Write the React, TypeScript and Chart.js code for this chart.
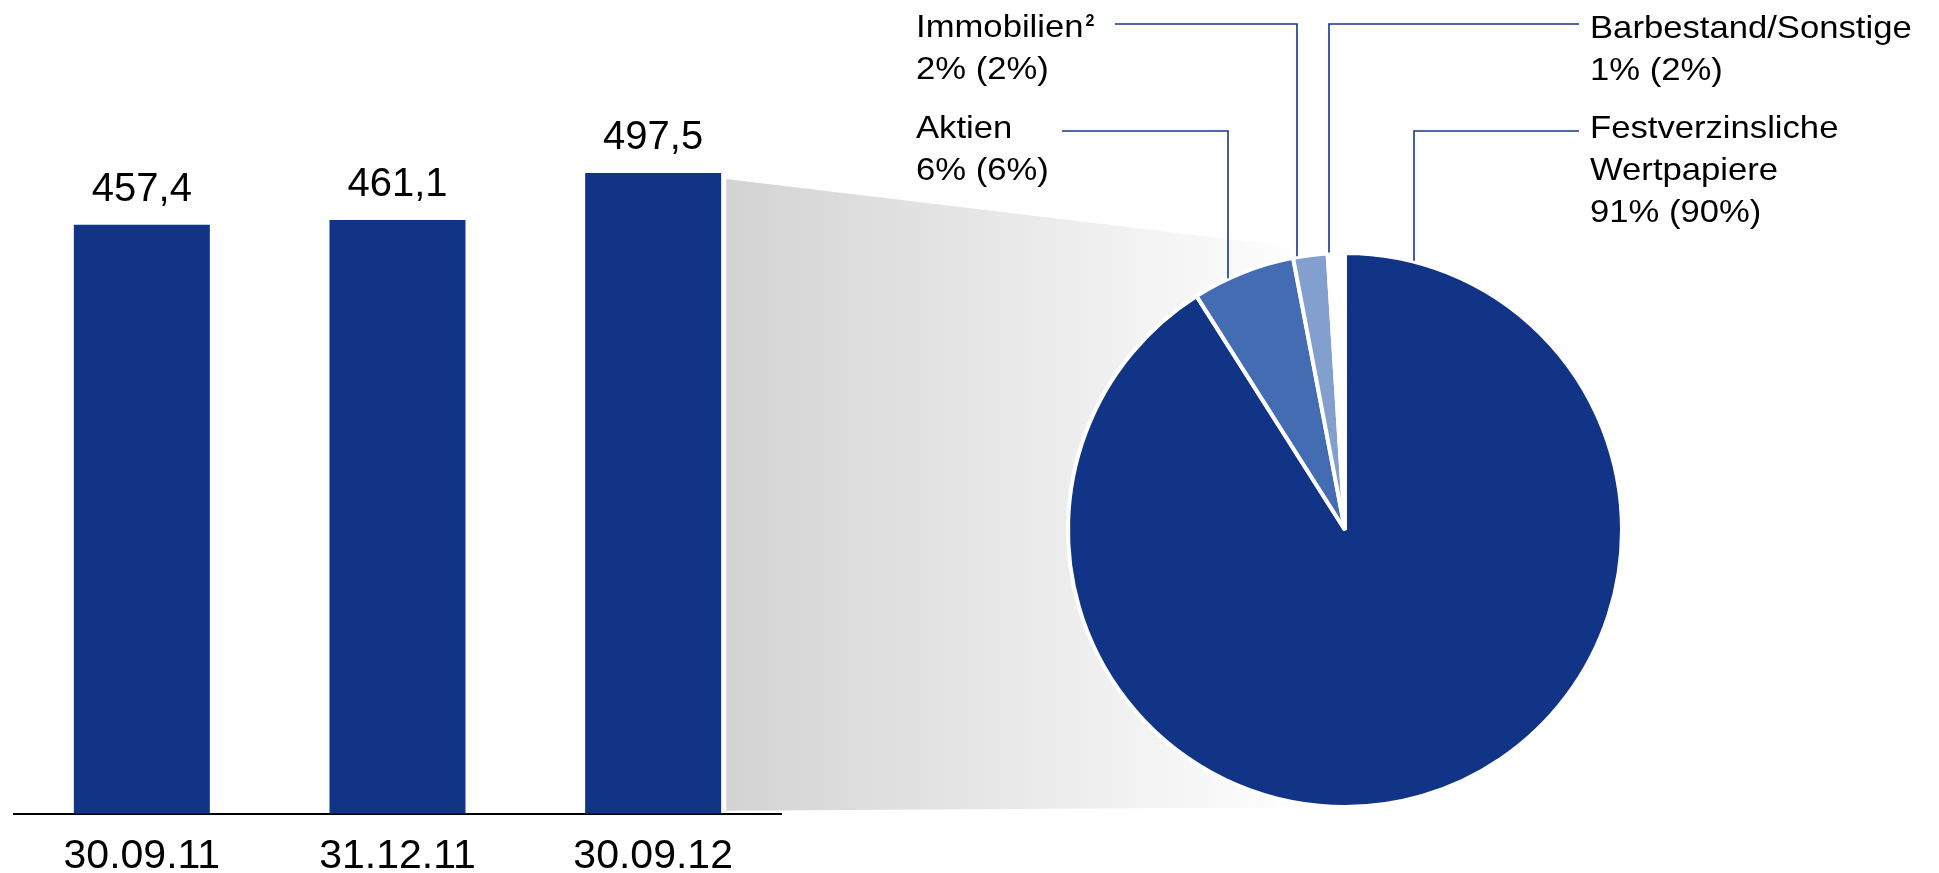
import React, { useEffect, useRef } from 'react';
import { Chart, registerables } from 'chart.js';

Chart.register(...registerables);

// ---------- data ----------
const barCategories = ['30.09.11', '31.12.11', '30.09.12'];
const barValues = [457.4, 461.1, 497.5];
const barAxisMax = 600;

const pieCategories = ['Festverzinsliche Wertpapiere', 'Aktien', 'Immobilien', 'Barbestand/Sonstige'];
const pieShares = [91, 6, 2, 1];
const pieSharesPrev = [90, 6, 2, 2];
const pieNameLines = [['Festverzinsliche', 'Wertpapiere'], ['Aktien'], ['Immobilien'], ['Barbestand/Sonstige']];
const pieSuperscripts = ['', '', '2', ''];

// ---------- styles ----------
const NAVY = '#123487';
const pieColors = [NAVY, '#446CB2', '#829FCD', '#FFFFFF'];
const LINE_COLOR = '#16358C';
const FONT = "'Liberation Sans', Arial, Helvetica, sans-serif";

// callout layout (pixels)
const callouts = [
  { textX: 1590, baseY: 138, lineY: 131, fromX: 1579, bendX: 1414 },
  { textX: 916, baseY: 137.5, lineY: 131, fromX: 1062, bendX: 1228 },
  { textX: 916, baseY: 37, lineY: 24, fromX: 1115, bendX: 1297 },
  { textX: 1590, baseY: 37.5, lineY: 24, fromX: 1579, bendX: 1329 },
];
const LABEL_FONT_SIZE = 31.5;
const LABEL_STRETCH = 1.1;
const LABEL_LINE_HEIGHT = 42;

const fmt = (v: number) => v.toFixed(1).replace('.', ',');

function drawStretched(ctx: CanvasRenderingContext2D, t: string, x: number, y: number, sx: number) {
  ctx.save();
  ctx.translate(x, y);
  ctx.scale(sx, 1);
  ctx.fillText(t, 0, 0);
  ctx.restore();
}

const barValueLabels = {
  id: 'barValueLabels',
  afterDatasetsDraw(chart: any) {
    const ctx = chart.ctx as CanvasRenderingContext2D;
    const meta = chart.getDatasetMeta(0);
    ctx.save();
    ctx.fillStyle = '#000';
    ctx.font = `40px ${FONT}`;
    ctx.textAlign = 'center';
    ctx.textBaseline = 'alphabetic';
    meta.data.forEach((el: any, i: number) => {
      ctx.fillText(fmt(barValues[i]), el.x, el.y - 24);
    });
    ctx.restore();
  },
};

function makeGradientPlugin(barChart: any) {
  return {
    id: 'zoomGradient',
    beforeDatasetsDraw(chart: any) {
      const ctx = chart.ctx as CanvasRenderingContext2D;
      const bar = barChart.getDatasetMeta(0).data[barValues.length - 1] as any;
      const arc = chart.getDatasetMeta(0).data[0] as any;
      const left = bar.x + bar.width / 2 + 5;
      const top = bar.y + 6;
      const bottom = bar.base - 3;
      const cx = arc.x;
      const cy = arc.y;
      const R = arc.outerRadius;
      const g = ctx.createLinearGradient(left, 0, left + 580, 0);
      g.addColorStop(0, '#d3d3d3');
      g.addColorStop(1, '#ffffff');
      ctx.save();
      ctx.fillStyle = g;
      ctx.beginPath();
      ctx.moveTo(left, top);
      ctx.lineTo(cx, cy - R);
      ctx.lineTo(cx, cy + R);
      ctx.lineTo(left, bottom);
      ctx.closePath();
      ctx.fill();
      ctx.restore();
    },
  };
}

const pieCallouts = {
  id: 'pieCallouts',
  afterDatasetsDraw(chart: any) {
    const ctx = chart.ctx as CanvasRenderingContext2D;
    const arc = chart.getDatasetMeta(0).data[0] as any;
    const cx = arc.x;
    const cy = arc.y;
    const R = arc.outerRadius - 2;
    ctx.save();
    callouts.forEach((c, i) => {
      const dx = c.bendX - cx;
      const endY = cy - Math.sqrt(Math.max(R * R - dx * dx, 0)) - 3;
      ctx.strokeStyle = LINE_COLOR;
      ctx.lineWidth = 1.6;
      ctx.beginPath();
      ctx.moveTo(c.fromX, c.lineY);
      ctx.lineTo(c.bendX, c.lineY);
      ctx.lineTo(c.bendX, endY);
      ctx.stroke();

      ctx.fillStyle = '#000';
      ctx.textAlign = 'left';
      ctx.textBaseline = 'alphabetic';
      ctx.font = `${LABEL_FONT_SIZE}px ${FONT}`;
      const lines = [...pieNameLines[i], `${pieShares[i]}% (${pieSharesPrev[i]}%)`];
      lines.forEach((t, j) => {
        drawStretched(ctx, t, c.textX, c.baseY + j * LABEL_LINE_HEIGHT, LABEL_STRETCH);
      });
      if (pieSuperscripts[i]) {
        const w = ctx.measureText(pieNameLines[i][0]).width * LABEL_STRETCH;
        ctx.font = `bold 16px ${FONT}`;
        ctx.fillText(pieSuperscripts[i], c.textX + w + 2, c.baseY - 11);
      }
    });
    ctx.restore();
  },
};

export default function App() {
  const barRef = useRef<HTMLCanvasElement>(null);
  const pieRef = useRef<HTMLCanvasElement>(null);

  useEffect(() => {
    const barChart = new Chart(barRef.current!, {
      type: 'bar',
      data: {
        labels: barCategories,
        datasets: [
          {
            data: barValues,
            backgroundColor: NAVY,
            barPercentage: 0.532,
            categoryPercentage: 1,
          },
        ],
      },
      options: {
        responsive: false,
        animation: false,
        devicePixelRatio: 1,
        layout: { padding: { left: 14, right: 19, top: 41, bottom: 1 } },
        plugins: { legend: { display: false }, tooltip: { enabled: false } },
        scales: {
          x: {
            grid: { display: false, drawTicks: false },
            border: { display: true, color: '#000', width: 2 },
            ticks: {
              color: '#000',
              font: { family: FONT, size: 41 },
              padding: 18,
              maxRotation: 0,
              autoSkip: false,
            },
          },
          y: { display: false, min: 0, max: barAxisMax },
        },
      },
      plugins: [barValueLabels],
    } as any);

    const pieChart = new Chart(pieRef.current!, {
      type: 'pie',
      data: {
        labels: pieCategories,
        datasets: [
          {
            data: pieShares,
            backgroundColor: pieColors,
            borderColor: '#ffffff',
            borderWidth: 4,
          },
        ],
      },
      options: {
        responsive: false,
        animation: false,
        devicePixelRatio: 1,
        radius: 277,
        layout: { padding: { left: 1045, right: 294, top: 250, bottom: 63 } },
        plugins: { legend: { display: false }, tooltip: { enabled: false } },
      },
      plugins: [makeGradientPlugin(barChart), pieCallouts],
    } as any);

    return () => {
      pieChart.destroy();
      barChart.destroy();
    };
  }, []);

  return (
    <div
      style={{
        position: 'fixed',
        left: 0,
        top: 0,
        width: 1939,
        height: 873,
        overflow: 'hidden',
        background: '#ffffff',
      }}
    >
      <canvas
        ref={barRef}
        width={800}
        height={900}
        style={{ position: 'absolute', left: 0, top: 0, width: 800, height: 900, display: 'block' }}
      />
      <canvas
        ref={pieRef}
        width={1939}
        height={873}
        style={{ position: 'absolute', left: 0, top: 0, width: 1939, height: 873, display: 'block' }}
      />
    </div>
  );
}
